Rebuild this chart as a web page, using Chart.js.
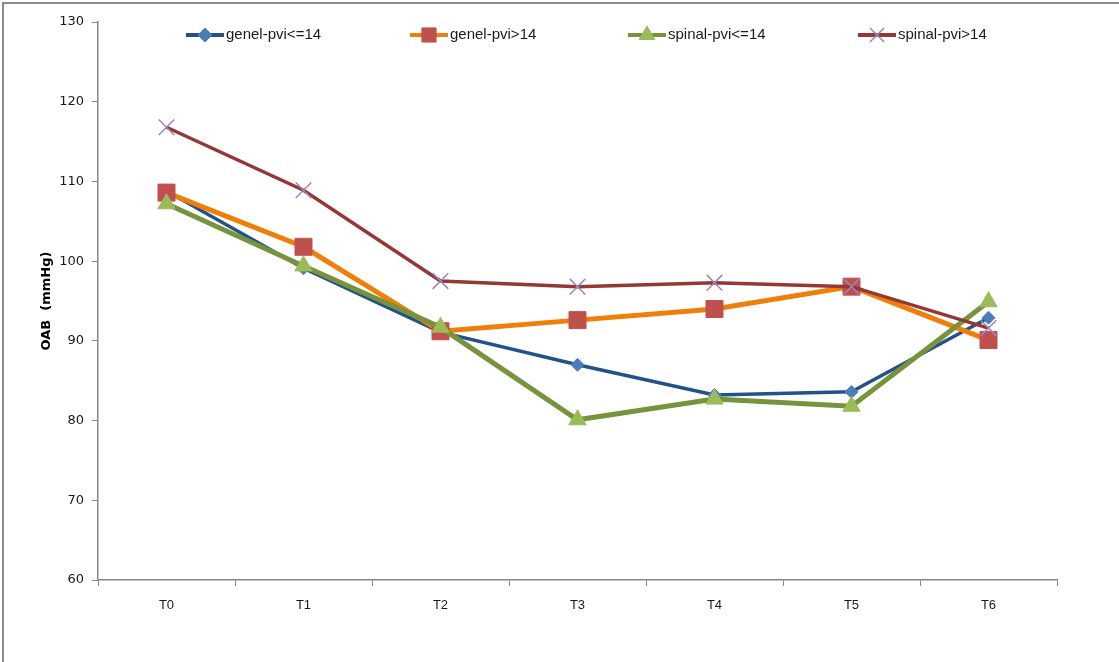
<!DOCTYPE html>
<html lang="en">
<head>
    <meta charset="UTF-8">
    <title>OAB (mmHg)</title>
    <script src="https://cdn.jsdelivr.net/npm/chart.js"></script>
    <style>
        html, body { margin: 0; padding: 0; background: #fff; }
        #wrap { width: 1119px; height: 662px; position: relative; }
    </style>
</head>
<body>
    <div id="wrap">
        <canvas id="lineChart" width="1119" height="662"></canvas>
    </div>

    <script>
        // donnees
        var categories = ['T0', 'T1', 'T2', 'T3', 'T4', 'T5', 'T6'];
        var seriesNames = ['genel-pvi<=14', 'genel-pvi>14', 'spinal-pvi<=14', 'spinal-pvi>14'];
        var genelLow = [108.8, 99.1, 91.1, 87.0, 83.2, 83.6, 92.9];
        var genelHigh = [108.6, 101.8, 91.2, 92.6, 94.0, 96.8, 90.1];
        var spinalLow = [107.2, 99.4, 91.7, 80.1, 82.7, 81.8, 94.9];
        var spinalHigh = [116.8, 108.9, 97.5, 96.8, 97.3, 96.8, 91.6];
        var yTicks = [60, 70, 80, 90, 100, 110, 120, 130];

        var tickFont = { family: 'DejaVu Sans', size: 13 };
        var catFont = { family: 'Liberation Sans Narrow, Liberation Sans', size: 13 };

        // legende dessinee a la main (ligne + marqueur comme dans Excel)
        var excelLegend = {
            id: 'excelLegend',
            afterDraw: function (chart) {
                var ctx = chart.ctx;
                var xs = [186, 410, 628, 858];
                var y = 35;
                ctx.save();
                chart.data.datasets.forEach(function (ds, i) {
                    var x = xs[i];
                    ctx.strokeStyle = ds.borderColor;
                    ctx.lineWidth = 4;
                    ctx.beginPath();
                    ctx.moveTo(x, y);
                    ctx.lineTo(x + 38, y);
                    ctx.stroke();
                    ctx.fillStyle = ds.pointBackgroundColor;
                    ctx.strokeStyle = ds.pointBorderColor;
                    ctx.lineWidth = ds.pointBorderWidth;
                    Chart.helpers.drawPoint(ctx, {
                        pointStyle: ds.pointStyle,
                        radius: ds.legendRadius,
                        rotation: ds.pointRotation || 0,
                        borderWidth: ds.pointBorderWidth
                    }, x + 19, y);
                    ctx.fillStyle = '#1a1a1a';
                    ctx.font = '15px "Liberation Sans Narrow", "Liberation Sans", sans-serif';
                    ctx.textBaseline = 'middle';
                    ctx.textAlign = 'left';
                    ctx.fillText(ds.label, x + 40, y);
                });
                // cadre gauche et haut
                ctx.strokeStyle = '#8c8c8c';
                ctx.lineWidth = 2;
                ctx.beginPath();
                ctx.moveTo(3, 662);
                ctx.lineTo(3, 3);
                ctx.lineTo(1119, 3);
                ctx.stroke();
                ctx.restore();
            }
        };

        const config = {
            type: 'line',
            data: {
                labels: categories,
                datasets: [{
                    label: seriesNames[0],
                    data: genelLow,
                    order: 4,
                    borderColor: '#24518A',
                    borderWidth: 3.5,
                    pointStyle: 'rectRot',
                    pointRadius: 6.5,
                    legendRadius: 7,
                    pointBackgroundColor: '#4A7EBB',
                    pointBorderColor: '#4A7EBB',
                    pointBorderWidth: 1
                }, {
                    label: seriesNames[1],
                    data: genelHigh,
                    order: 3,
                    borderColor: '#F07F09',
                    borderWidth: 5,
                    pointStyle: 'rect',
                    pointRadius: 12,
                    legendRadius: 10,
                    pointBackgroundColor: '#C0504D',
                    pointBorderColor: '#C0504D',
                    pointBorderWidth: 1
                }, {
                    label: seriesNames[2],
                    data: spinalLow,
                    order: 2,
                    borderColor: '#77933C',
                    borderWidth: 5,
                    pointStyle: 'triangle',
                    pointRadius: 10,
                    legendRadius: 9,
                    pointBackgroundColor: '#9BBB59',
                    pointBorderColor: '#9BBB59',
                    pointBorderWidth: 1
                }, {
                    label: seriesNames[3],
                    data: spinalHigh,
                    order: 1,
                    borderColor: '#953735',
                    borderWidth: 3.5,
                    pointStyle: 'cross',
                    pointRotation: 45,
                    pointRadius: 11,
                    legendRadius: 10,
                    pointBackgroundColor: '#8064A2',
                    pointBorderColor: '#9A86B8',
                    pointBorderWidth: 1.5
                }]
            },
            options: {
                responsive: false,
                animation: false,
                layout: { padding: { left: 0, right: 62, top: 22, bottom: 0 } },
                plugins: {
                    legend: { display: false },
                    tooltip: { enabled: false }
                },
                elements: { line: { tension: 0 } },
                scales: {
                    x: {
                        offset: true,
                        grid: {
                            offset: true,
                            drawOnChartArea: false,
                            drawTicks: true,
                            tickLength: 6,
                            color: '#868686'
                        },
                        border: { color: '#868686', width: 1.5 },
                        ticks: { color: '#1a1a1a', font: catFont, padding: 12 },
                        afterFit: function (scale) { scale.height = 82; }
                    },
                    y: {
                        min: 60,
                        max: 130,
                        afterBuildTicks: function (scale) {
                            scale.ticks = yTicks.map(function (v) { return { value: v }; });
                        },
                        grid: {
                            drawOnChartArea: false,
                            drawTicks: true,
                            tickLength: 6,
                            color: '#868686'
                        },
                        border: { color: '#868686', width: 1.5 },
                        ticks: { color: '#1a1a1a', font: tickFont, padding: 8 },
                        title: {
                            display: true,
                            text: 'OAB  (mmHg)',
                            color: '#000',
                            font: { family: 'DejaVu Sans', size: 13, weight: 'bold' },
                            padding: { top: 39, bottom: 0 }
                        },
                        afterFit: function (scale) { scale.width = 98; }
                    }
                }
            },
            plugins: [excelLegend]
        };

        var ctx = document.getElementById('lineChart').getContext('2d');
        var myLineChart = new Chart(ctx, config);
    </script>
</body>
</html>
